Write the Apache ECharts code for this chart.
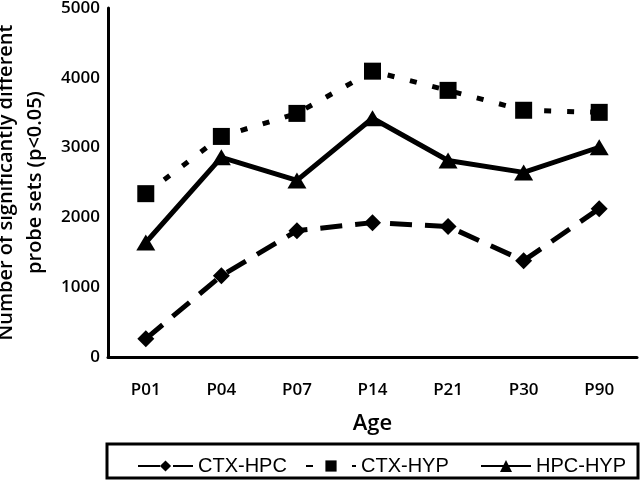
<!DOCTYPE html>
<html>
<head>
<meta charset="utf-8">
<script src="https://cdn.jsdelivr.net/npm/echarts@6/dist/echarts.min.js"></script>
<style>html,body{margin:0;padding:0;background:#fff}#c{width:640px;height:480px}</style>
</head>
<body>
<div id="c"></div>
<script>
const categories = ['P01','P04','P07','P14','P21','P30','P90'];
const ctxHpc = [260, 1165, 1810, 1925, 1870, 1380, 2125];
const ctxHyp = [2340, 3160, 3490, 4095, 3820, 3535, 3505];
const hpcHyp = [1640, 2860, 2530, 3420, 2815, 2645, 3005];
const yTicks = [0, 1000, 2000, 3000, 4000, 5000];

const chart = echarts.init(document.getElementById('c'), null, {renderer: 'canvas'});
const tickFont = {fontFamily: 'Open Sans', fontSize: 17, fontWeight: 600, color: '#000'};
const legendText = {fontFamily: 'Liberation Sans', fontSize: 20, color: '#000'};
chart.setOption({
  animation: false,
  backgroundColor: '#fff',
  grid: {left: 108, right: 3, top: 8, bottom: 123, containLabel: false, outerBoundsMode: 'none'},
  xAxis: {
    type: 'category', data: categories, boundaryGap: true,
    name: 'Age', nameLocation: 'middle', nameGap: 56,
    nameTextStyle: {fontFamily: 'Open Sans', fontSize: 22, fontWeight: 600, color: '#000'},
    axisLine: {lineStyle: {color: '#000', width: 3}},
    axisTick: {show: false},
    axisLabel: Object.assign({margin: 25}, tickFont)
  },
  yAxis: {
    type: 'value', min: yTicks[0], max: yTicks[yTicks.length-1], interval: 1000,
    name: 'Number of significantly different\nprobe sets (p<0.05)',
    nameLocation: 'middle', nameGap: 55, nameRotate: 90,
    nameTextStyle: {fontFamily: 'Open Sans', fontSize: 20, fontWeight: 600, lineHeight: 29, color: '#000'},
    axisLine: {show: true, lineStyle: {color: '#000', width: 3}},
    axisTick: {show: false},
    splitLine: {show: false},
    axisLabel: Object.assign({margin: 8, formatter: v => String(v)}, tickFont)
  },
  legend: [
    {data: ['CTX-HPC'], left: 132, top: 451, itemWidth: 55, itemHeight: 14, textStyle: legendText},
    {data: ['CTX-HYP'], left: 300, top: 451, itemWidth: 50, itemHeight: 14, textStyle: legendText},
    {data: ['HPC-HYP'], left: 475, top: 451, itemWidth: 50, itemHeight: 15, textStyle: legendText}
  ],
  graphic: [{
    type: 'rect', shape: {x: 107, y: 444, width: 531, height: 34},
    style: {fill: 'none', stroke: '#000', lineWidth: 3}, silent: true
  }],
  series: [
    {name: 'CTX-HPC', type: 'line', data: ctxHpc, symbol: 'diamond', symbolSize: 17,
     lineStyle: {color: '#000', width: 5, type: [22, 13]}, itemStyle: {color: '#000'}},
    {name: 'CTX-HYP', type: 'line', data: ctxHyp, symbol: 'rect', symbolSize: 17,
     lineStyle: {color: '#000', width: 5, type: [7, 16]}, itemStyle: {color: '#000'}},
    {name: 'HPC-HYP', type: 'line', data: hpcHyp, symbol: 'triangle', symbolSize: [19, 16],
     lineStyle: {color: '#000', width: 5, type: 'solid'}, itemStyle: {color: '#000'}}
  ]
});
</script>
</body>
</html>
